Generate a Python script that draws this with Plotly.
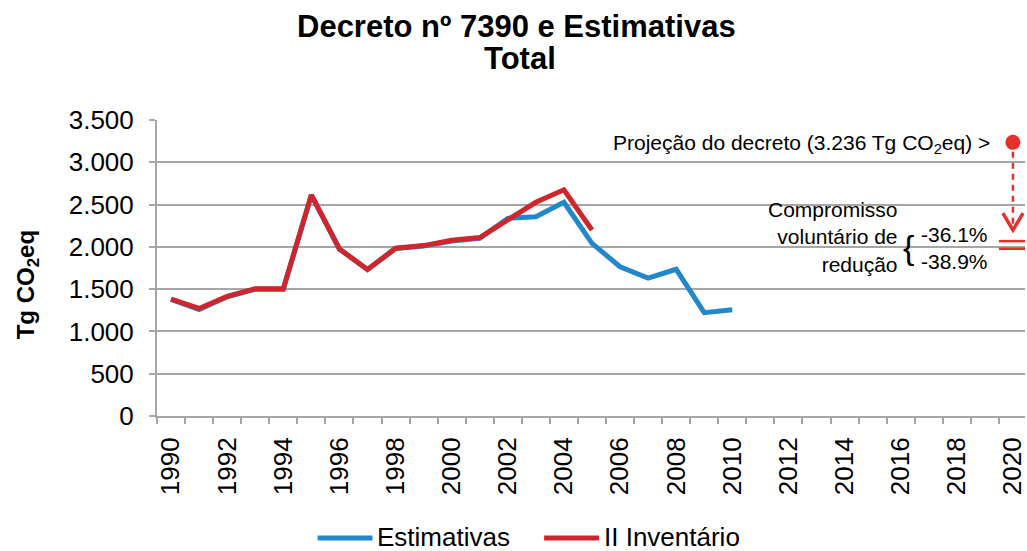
import plotly.graph_objects as go

# ---- data ----
years_est = list(range(1990, 2011))
estimativas = [1380, 1260, 1410, 1500, 1500, 2610, 1975, 1730, 1980, 2010, 2070,
               2100, 2337, 2357, 2527, 2042, 1765, 1630, 1735, 1222, 1255]
years_inv = list(range(1990, 2006))
inventario = [1383, 1272, 1415, 1505, 1505, 2615, 1975, 1733, 1983, 2015, 2078,
              2110, 2318, 2527, 2675, 2199]
proj_year = 2020
proj_value = 3236
cut_a = 36.1
cut_b = 38.9
series_names = ["Estimativas", "II Inventário"]

BLUE = "#2288cc"
RED = "#cf262c"
RED2 = "#e8302a"
GRID = "#a6a6a6"
FONT = "Liberation Sans, Arial, sans-serif"

low_a = proj_value * (1 - cut_a / 100)
low_b = proj_value * (1 - cut_b / 100)
tip = low_a + 130

fig = go.Figure()
fig.add_trace(go.Scatter(x=years_est, y=estimativas, mode="lines", name=series_names[0],
                         line=dict(color=BLUE, width=5)))
fig.add_trace(go.Scatter(x=years_inv, y=inventario, mode="lines", name=series_names[1],
                         line=dict(color=RED, width=5)))
fig.add_trace(go.Scatter(x=[proj_year], y=[proj_value], mode="markers", showlegend=False,
                         marker=dict(color=RED2, size=15), cliponaxis=False))

L, R, T, B = 157, 0, 120, 135
W, H = 1027, 551
pw, ph = W - L - R, H - T - B

def px(xp):
    return (xp - L) / pw

def py(yp):
    return (H - B - yp) / ph

shapes = [
    dict(type="line", xref="x", yref="y", x0=proj_year, x1=proj_year,
         y0=proj_value - 110, y1=tip + 20, line=dict(color=RED2, width=2.5, dash="6px,5px")),
    dict(type="path", xref="x", yref="y",
         path=f"M {proj_year-0.36},{tip+200} L {proj_year},{tip} L {proj_year+0.36},{tip+200}",
         line=dict(color=RED2, width=3.5)),
    dict(type="line", xref="x", yref="y", x0=proj_year - 0.5, x1=proj_year + 0.43,
         y0=low_a, y1=low_a, line=dict(color=RED2, width=2.5)),
    dict(type="line", xref="x", yref="y", x0=proj_year - 0.5, x1=proj_year + 0.43,
         y0=low_b, y1=low_b, line=dict(color=RED2, width=2.5)),
]

# custom legend (long line samples as in the reference)
legend_items = [(series_names[0], BLUE, 318, 373), (series_names[1], RED, 545, 600)]
for name, col, x0, x1 in legend_items:
    shapes.append(dict(type="line", xref="paper", yref="paper", x0=px(x0), x1=px(x1),
                       y0=py(538), y1=py(538), line=dict(color=col, width=5)))

annotations = [
    dict(text="<b>Decreto nº 7390 e Estimativas</b>", xref="paper", yref="paper",
         x=px(517), y=py(27), xanchor="center", yanchor="middle", showarrow=False,
         font=dict(size=31, color="black", family=FONT)),
    dict(text="<b>Total</b>", xref="paper", yref="paper",
         x=px(521), y=py(58), xanchor="center", yanchor="middle", showarrow=False,
         font=dict(size=31, color="black", family=FONT)),
    dict(text="<b>Tg CO<sub>2</sub>eq</b>", xref="paper", yref="paper", x=px(27), y=py(285),
         xanchor="center", yanchor="middle",
         textangle=-90, showarrow=False, font=dict(size=24, color="black", family=FONT)),
    dict(text=f"Projeção do decreto ({proj_value/1000:.3f} Tg CO<sub>2</sub>eq) >",
         xref="paper", yref="paper", x=px(994), y=py(144), xanchor="right", yanchor="middle",
         showarrow=False, font=dict(size=21, color="black", family=FONT)),
    dict(text="Compromisso<br>voluntário de<br>redução", xref="paper", yref="paper",
         x=px(902), y=py(237), xanchor="right", yanchor="middle", align="right",
         showarrow=False, font=dict(size=21, color="black", family=FONT)),
    dict(text="{", xref="paper", yref="paper", x=px(910), y=py(247), xanchor="center",
         yanchor="middle", showarrow=False, font=dict(size=34, color="black", family=FONT)),
    dict(text=f"-{cut_a}%<br>-{cut_b}%", xref="paper", yref="paper", x=px(921), y=py(248),
         xanchor="left", yanchor="middle", align="left",
         showarrow=False, font=dict(size=21, color="black", family=FONT)),
]
for name, col, x0, x1 in legend_items:
    annotations.append(dict(text=name, xref="paper", yref="paper", x=px(x1 + 3), y=py(537),
                            xanchor="left", yanchor="middle", showarrow=False,
                            font=dict(size=26, color="black", family=FONT)))

fig.update_layout(
    width=W, height=H,
    margin=dict(l=L, r=R, t=T, b=B),
    paper_bgcolor="white", plot_bgcolor="white",
    separators=",.",
    font=dict(family=FONT, color="black"),
    showlegend=False,
    shapes=shapes,
    annotations=annotations,
)
fig.update_xaxes(range=[1989.5, 2020.43], tickmode="linear", tick0=1990, dtick=2,
                 tickangle=-90, ticks="", ticklabelstandoff=9, showgrid=False,
                 ticklabeloverflow="allow",
                 showline=True, linecolor=GRID, linewidth=2, zeroline=False,
                 tickfont=dict(size=26, color="black", family=FONT),
                 minor=dict(tickmode="linear", tick0=1989.5, dtick=1, ticks="outside",
                            ticklen=6, tickcolor=GRID, tickwidth=2, showgrid=False))
fig.update_yaxes(range=[0, 3500], tickmode="linear", tick0=0, dtick=500, tickformat=",d",
                 showgrid=True, gridcolor=GRID, gridwidth=2, zeroline=False,
                 showline=True, linecolor=GRID, linewidth=2, ticks="outside", ticklen=6,
                 tickcolor=GRID, tickwidth=2, ticklabelstandoff=10,
                 tickfont=dict(size=26, color="black", family=FONT))

fig.write_html("out.html", config={"displayModeBar": False},
               post_script="document.body.style.margin='0';document.body.style.overflow='hidden';")
